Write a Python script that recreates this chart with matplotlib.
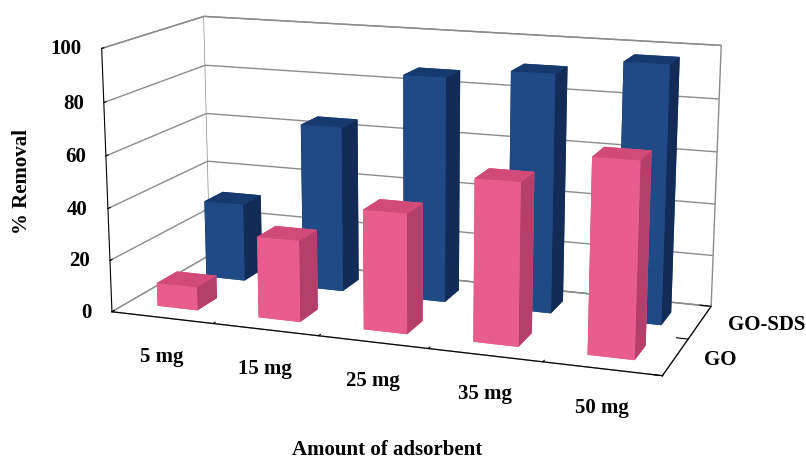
import numpy as np
import matplotlib
matplotlib.use("Agg")
import matplotlib.pyplot as plt
from mpl_toolkits.mplot3d import proj3d

categories = ["5 mg", "15 mg", "25 mg", "35 mg", "50 mg"]
series = ["GO", "GO-SDS"]
go_removal = [9, 31, 45, 60, 71]
go_sds_removal = [31, 65, 87, 91, 97]
z_ticks = [0, 20, 40, 60, 80, 100]

# face colours: bottom, top, front, back, left, right
pink_faces = ["#E85C8E", "#D14A78", "#E85C8E", "#E85C8E", "#B53F6A", "#B53F6A"]
blue_faces = ["#1F4A85", "#173A6E", "#1F4A85", "#1F4A85", "#132C57", "#132C57"]
line_grey = "#8c8c8c"

plt.rcParams["font.family"] = ["Liberation Serif", "DejaVu Serif"]
plt.rcParams["font.weight"] = "bold"

fig = plt.figure(figsize=(8.06, 4.6), dpi=100)
ax = fig.add_axes([0.1002, -0.1160, 0.8026, 1.4063], projection="3d",
                  proj_type="persp", focal_length=0.537)

n_cat = len(categories)
n_ser = len(series)
bar_w = 0.4
bar_d = 0.4
xs, ys, heights, colors = [], [], [], []
for j, vals in enumerate([go_removal, go_sds_removal]):
    faces = pink_faces if j == 0 else blue_faces
    for i, v in enumerate(vals):
        xs.append(i - bar_w / 2)
        ys.append(j - bar_d / 2)
        heights.append(v)
        colors.extend(faces)

ax.bar3d(xs, ys, np.zeros(len(xs)), bar_w, bar_d, heights,
         color=colors, shade=False, edgecolor="none")

ax.set_xlim(-0.5, n_cat - 0.5)
ax.set_ylim(-0.5, n_ser - 0.5)
ax.set_zlim(0, 100)
ax.set_box_aspect((2.101, 0.837, 1.0), zoom=1.0)
ax.view_init(elev=13.47, azim=-70.0)

# ticks sit on category boundaries, labels at the category centres
ax.set_xticks(np.arange(n_cat + 1) - 0.5)
ax.set_xticklabels([])
ax.set_yticks(np.arange(n_ser + 1) - 0.5)
ax.set_yticklabels([])
ax.set_zticks(z_ticks)
ax.set_zticklabels([])
ax.zaxis.set_ticks_position("lower")

for axis in (ax.xaxis, ax.yaxis, ax.zaxis):
    axis.set_pane_color((1, 1, 1, 1))
    axis.pane.set_edgecolor(line_grey)
    axis._axinfo["axisline"]["color"] = line_grey
    axis._axinfo["tick"].update(color=line_grey, inward_factor=0.0, outward_factor=0.25)
ax.xaxis._axinfo["grid"]["linewidth"] = 0
ax.yaxis._axinfo["grid"]["linewidth"] = 0
ax.zaxis._axinfo["grid"].update(color=line_grey, linewidth=1.0)

M = ax.get_proj()
label_style = dict(fontsize=15, fontweight="bold", textcoords="offset pixels")
for i, lab in enumerate(categories):
    px, py, _ = proj3d.proj_transform(i, -0.5, 0, M)
    ax.annotate(lab, xy=(px, py), xytext=(0, -38), ha="center", va="center", **label_style)
for j, lab in enumerate(series):
    px, py, _ = proj3d.proj_transform(n_cat - 0.5, j, 0, M)
    ax.annotate(lab, xy=(px, py), xytext=(28, -2), ha="left", va="center", **label_style)
for t in z_ticks:
    px, py, _ = proj3d.proj_transform(-0.5, -0.5, t, M)
    ax.annotate(str(t), xy=(px, py), xytext=(-20, 0), ha="right", va="center", **label_style)

fig.text(22 / 806, 1 - 181 / 460, "% Removal", rotation=90, ha="center", va="center",
         fontsize=15, fontweight="bold")
fig.text(387 / 806, 1 - 450 / 460, "Amount of adsorbent", ha="center", va="center",
         fontsize=15, fontweight="bold")

fig.savefig("out.png", dpi=100)
